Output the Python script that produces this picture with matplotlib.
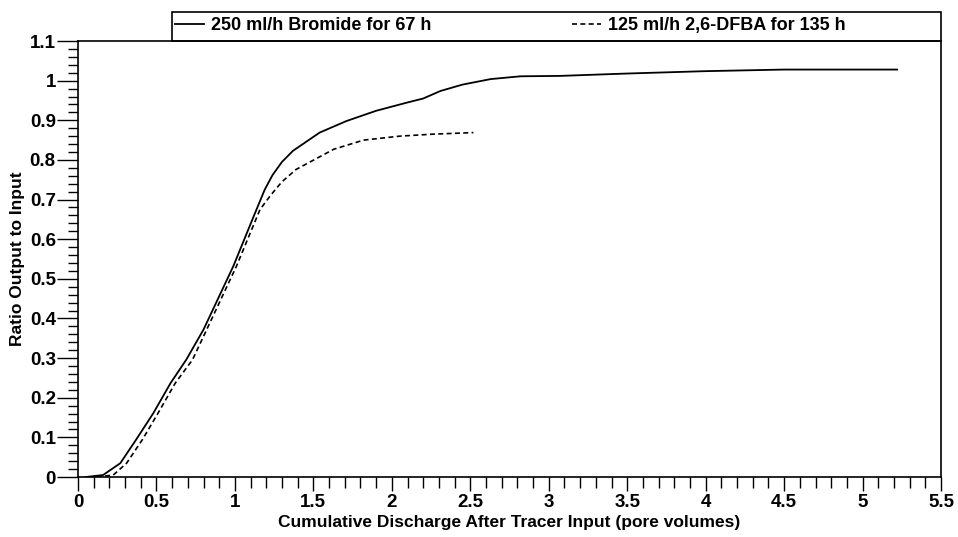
import matplotlib.pyplot as plt
from matplotlib.patches import Rectangle
from matplotlib.ticker import MultipleLocator, FormatStrFormatter

plt.rcParams['font.family'] = ['Liberation Sans', 'DejaVu Sans']
plt.rcParams['font.weight'] = 'bold'

# Bromide, 250 ml/h for 67 h
bromide_x = [0.05, 0.16, 0.27, 0.37, 0.48, 0.59, 0.69, 0.80, 0.99, 1.12, 1.19, 1.24, 1.30, 1.37,
             1.54, 1.71, 1.90, 2.10, 2.20, 2.31, 2.45, 2.63, 2.82, 3.07, 3.5, 4.0, 4.5, 5.0, 5.22]
bromide_y = [0.0, 0.005, 0.035, 0.094, 0.161, 0.237, 0.296, 0.372, 0.532, 0.658, 0.725, 0.762, 0.795, 0.823,
             0.869, 0.898, 0.924, 0.945, 0.955, 0.974, 0.990, 1.004, 1.011, 1.012, 1.018, 1.024, 1.028, 1.028, 1.028]

# 2,6-DFBA, 125 ml/h for 135 h
dfba_x = [0.12, 0.225, 0.31, 0.41, 0.51, 0.62, 0.73, 0.85, 1.01, 1.16, 1.23, 1.30, 1.39, 1.63,
          1.82, 2.05, 2.26, 2.52]
dfba_y = [0.0, 0.005, 0.035, 0.094, 0.161, 0.237, 0.296, 0.397, 0.532, 0.675, 0.712, 0.745, 0.776, 0.827,
          0.850, 0.860, 0.865, 0.869]

labels = ['250 ml/h Bromide for 67 h', '125 ml/h 2,6-DFBA for 135 h']

fig = plt.figure(figsize=(9.58, 5.37), dpi=100)
ax = fig.add_axes([0.0814, 0.1117, 0.9009, 0.8119])

ax.plot(bromide_x, bromide_y, color='black', lw=1.3, label=labels[0])
ax.plot(dfba_x, dfba_y, color='black', lw=1.2, linestyle=(0, (3, 2)), label=labels[1])

ax.set_xlim(0, 5.5)
ax.set_ylim(0, 1.1)
ax.xaxis.set_major_locator(MultipleLocator(0.5))
ax.xaxis.set_minor_locator(MultipleLocator(0.1))
ax.yaxis.set_major_locator(MultipleLocator(0.1))
ax.yaxis.set_minor_locator(MultipleLocator(0.02))
ax.xaxis.set_major_formatter(FormatStrFormatter('%g'))
ax.yaxis.set_major_formatter(FormatStrFormatter('%g'))
ax.tick_params(axis='x', which='major', direction='out', length=10, width=1, labelsize=13.5, pad=2)
ax.tick_params(axis='x', which='minor', direction='out', length=8, width=1)
ax.tick_params(axis='y', which='major', direction='out', length=15, width=1, labelsize=13.5, pad=1)
ax.tick_params(axis='y', which='minor', direction='out', length=7, width=1)
for s in ax.spines.values():
    s.set_linewidth(1.2)

ax.set_xlabel('Cumulative Discharge After Tracer Input (pore volumes)', fontsize=12.5, fontweight='bold', labelpad=3)
ax.set_ylabel('Ratio Output to Input', fontsize=12.5, fontweight='bold', labelpad=3)

# legend box sitting on top of the axes frame
ax.add_patch(Rectangle((0.109, 1.0), 0.891, 0.066, transform=ax.transAxes, fill=False,
                       edgecolor='black', lw=1.2, clip_on=False))
ax.legend(loc='center left', bbox_to_anchor=(0.112, 1.036), ncol=2, frameon=False,
          borderaxespad=0, borderpad=0, handlelength=1.6, handletextpad=0.4,
          columnspacing=7.8, prop={'size': 13, 'weight': 'bold'})

fig.savefig('out.png', dpi=100)
